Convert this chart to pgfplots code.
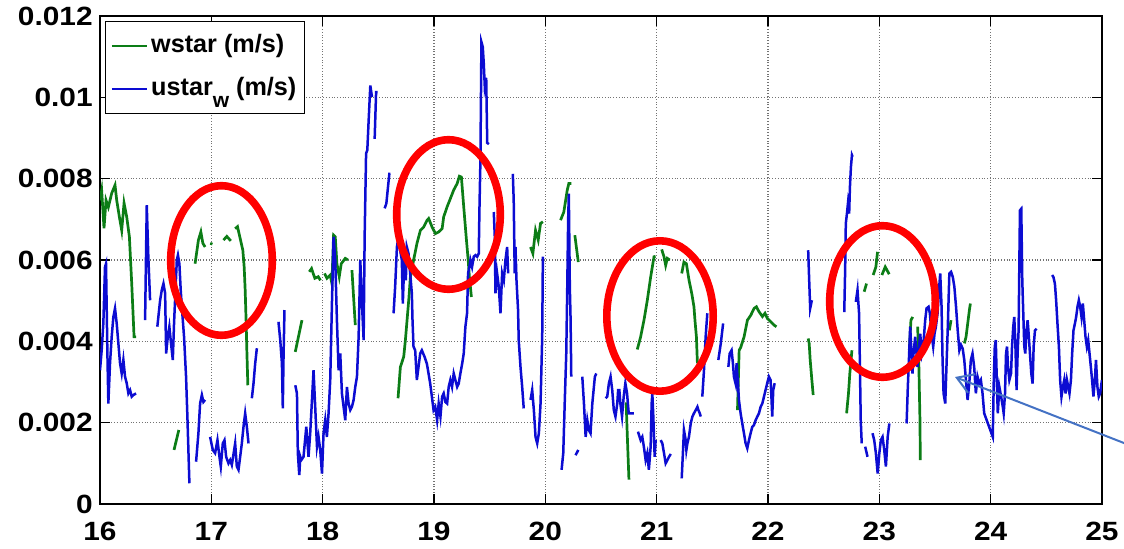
\documentclass[border=0pt]{standalone}
\usepackage{fontspec}
\usepackage{pgfplots}
\pgfplotsset{compat=1.18}
\usetikzlibrary{arrows.meta}
\newfontfamily\tickfont{Liberation Sans}[FakeStretch=1.13]
\newfontfamily\legfont{Liberation Sans}
\definecolor{mgreen}{RGB}{12,125,22}
\definecolor{mblue}{RGB}{12,12,210}
\definecolor{arrowblue}{RGB}{68,114,196}
\begin{document}
\begin{tikzpicture}
\path[use as bounding box] (-50bp,-22.5bp) rectangle (512bp,252bp);
\begin{axis}[
  at={(0,0)}, anchor=south west,
  scale only axis, width=501bp, height=244bp,
  xmin=16, xmax=25, ymin=0, ymax=0.012,
  xtick={16,17,18,19,20,21,22,23,24,25},
  xticklabels={16,17,18,19,20,21,22,23,24,25},
  ytick={0,0.002,0.004,0.006,0.008,0.01,0.012},
  yticklabels={\raisebox{-2.5bp}{0},0.002,0.004,0.006,0.008,0.01,0.012},
  scaled y ticks=false,
  grid=major,
  major grid style={densely dotted, line width=0.6bp, black!55},
  axis line style={line width=1bp, black},
  tick style={line width=0.8bp, black},
  major tick length=5bp,
  tick align=inside,
  ticklabel style={font=\tickfont\bfseries\fontsize{13.2bp}{14bp}\selectfont},
  xticklabel style={inner sep=0pt, anchor=north, yshift=-9bp},
  yticklabel style={inner sep=0pt, anchor=east, xshift=-3.5bp},
  unbounded coords=jump,
  legend style={at={(0.005,0.99)}, anchor=north west, draw=black, line width=0.6bp,
    fill=white, inner xsep=2.5bp, inner ysep=5bp, row sep=6.9bp,
    font=\legfont\bfseries\fontsize{12.6bp}{13bp}\selectfont,
    nodes={inner sep=1.5bp, text height=9bp, text depth=2.6bp}},
  legend cell align=left,
  legend image code/.code={\draw[#1, line width=1.3bp] (0bp,0bp) -- (17.5bp,0bp);},
]
\addplot[mgreen, line width=1.35bp] coordinates {
(16.0,0.00747)(16.015,0.00771)(16.036,0.00678)(16.054,0.00747)(16.075,0.0073)(16.105,0.00764)(16.135,0.00784)(16.15,0.00747)(16.174,0.00706)(16.195,0.00673)(16.216,0.0074)(16.24,0.00706)(16.264,0.00657)(16.285,0.00542)(16.306,0.00411)(16.324,0.00411)(16.33,nan)
(16.665,0.00133)(16.708,0.00182)(16.71,nan)
(16.854,0.00591)(16.884,0.00649)(16.906,0.00669)(16.924,0.00641)(16.944,0.00632)(16.95,nan)
(16.99,0.00641)(17.01,0.00639)(17.02,nan)
(17.109,0.00649)(17.139,0.00658)(17.175,0.00647)(17.18,nan)
(17.214,0.00677)(17.235,0.00682)(17.259,0.00653)(17.283,0.00624)(17.295,0.00583)(17.304,0.00526)(17.313,0.00444)(17.319,0.00378)(17.328,0.00292)(17.33,nan)
(17.754,0.00374)(17.814,0.00452)(17.82,nan)
(17.88,0.00571)(17.90,0.00579)(17.93,0.00555)(17.96,0.00559)(17.98,0.0055)(17.99,nan)
(18.017,0.00567)(18.039,0.00555)(18.068,0.00563)(18.083,0.00542)(18.098,0.00661)(18.113,0.00657)(18.128,0.00591)(18.149,0.00559)(18.167,0.00591)(18.203,0.00604)(18.227,0.006)(18.23,nan)
(18.263,0.00575)(18.293,0.0044)(18.3,nan)
(18.677,0.0026)(18.698,0.00337)(18.728,0.00362)(18.743,0.00403)(18.758,0.00452)(18.773,0.00501)(18.788,0.00558)(18.817,0.006)(18.847,0.00641)(18.878,0.00673)(18.907,0.00681)(18.938,0.00698)(18.952,0.00702)(18.983,0.00681)(19.013,0.00665)(19.042,0.00669)(19.073,0.00677)(19.087,0.00706)(19.118,0.00731)(19.147,0.00751)(19.177,0.00772)(19.208,0.00788)(19.228,0.00806)(19.246,0.00804)(19.267,0.00731)(19.289,0.00657)(19.307,0.006)(19.318,0.00558)(19.336,0.00509)(19.34,nan)
(19.867,0.00632)(19.888,0.00616)(19.912,0.00673)(19.936,0.00649)(19.957,0.0069)(19.978,0.00694)(19.98,nan)
(20.137,0.00698)(20.166,0.00718)(20.197,0.00772)(20.211,0.00788)(20.233,0.00788)(20.24,nan)
(20.265,0.00661)(20.296,0.00595)(20.3,nan)
(20.726,0.0025)(20.736,0.0017)(20.751,0.0006)(20.76,nan)
(20.826,0.0038)(20.856,0.00411)(20.886,0.00452)(20.916,0.00501)(20.946,0.00558)(20.976,0.00608)(20.99,0.00609)(21.0,nan)
(21.045,0.00626)(21.066,0.00608)(21.081,0.00587)(21.096,0.00604)(21.117,0.006)(21.12,nan)
(21.225,0.00567)(21.245,0.00595)(21.267,0.00591)(21.291,0.0055)(21.315,0.00518)(21.335,0.00485)(21.344,0.00452)(21.357,0.00411)(21.366,0.00346)(21.37,nan)
(21.726,0.00231)(21.741,0.00378)(21.755,0.00385)(21.785,0.00411)(21.815,0.00452)(21.845,0.00464)(21.875,0.00481)(21.896,0.00485)(21.919,0.00473)(21.95,0.00461)(21.973,0.00469)(21.995,0.00456)(22.025,0.00448)(22.054,0.0044)(22.076,0.00436)(22.08,nan)
(22.361,0.00407)(22.37,0.00395)(22.379,0.00354)(22.394,0.00305)(22.406,0.00268)(22.41,nan)
(22.706,0.00223)(22.723,0.00272)(22.735,0.00321)(22.754,0.00378)(22.76,nan)
(22.864,0.00522)(22.885,0.00542)(22.89,nan)
(22.945,0.00563)(22.969,0.00583)(22.984,0.0062)(22.99,nan)
(23.023,0.00563)(23.053,0.00583)(23.089,0.00565)(23.09,nan)
(23.269,0.00378)(23.284,0.00452)(23.30,0.0046)(23.31,nan)
(23.344,0.00436)(23.353,0.0037)(23.359,0.00288)(23.365,0.00206)(23.368,0.00108)(23.37,nan)
(23.629,0.00427)(23.644,0.00452)(23.65,nan)
(23.764,0.00395)(23.779,0.00411)(23.794,0.00444)(23.809,0.00477)(23.818,0.00493)
};
\addlegendentry{wstar (m/s)}
\addplot[mblue, line width=1.25bp] coordinates {
(16.0,0.00329)(16.015,0.00378)(16.030,0.00444)(16.045,0.00583)(16.054,0.00591)(16.066,0.00378)(16.075,0.00247)(16.09,0.00346)(16.105,0.00411)(16.12,0.0046)(16.135,0.00481)(16.15,0.00444)(16.165,0.00395)(16.18,0.00346)(16.195,0.00321)(16.21,0.00354)(16.225,0.00313)(16.24,0.00297)(16.255,0.00272)(16.27,0.0028)(16.285,0.00264)(16.30,0.00268)(16.324,0.00272)(16.33,nan)
(16.405,0.00452)(16.42,0.00735)(16.434,0.00608)(16.45,0.00501)(16.46,nan)
(16.515,0.00436)(16.54,0.00501)(16.555,0.00526)(16.57,0.00542)(16.585,0.00518)(16.594,0.0037)(16.609,0.00411)(16.623,0.00436)(16.638,0.00395)(16.654,0.00354)(16.665,0.00444)(16.677,0.00518)(16.69,0.006)(16.7,0.00612)(16.713,0.00591)(16.725,0.00526)(16.737,0.00477)(16.755,0.00411)(16.773,0.00313)(16.785,0.00215)(16.794,0.00133)(16.803,0.00051)(16.81,nan)
(16.863,0.00104)(16.884,0.00174)(16.899,0.00247)(16.915,0.00268)(16.929,0.00251)(16.944,0.00256)(16.95,nan)
(16.989,0.00165)(17.013,0.00133)(17.034,0.00125)(17.055,0.00157)(17.073,0.00116)(17.085,0.00092)(17.103,0.00149)(17.118,0.00157)(17.133,0.00116)(17.154,0.001)(17.169,0.00108)(17.184,0.00096)(17.214,0.00149)(17.229,0.00092)(17.244,0.00084)(17.259,0.00116)(17.274,0.00149)(17.289,0.0019)(17.304,0.00223)(17.319,0.0019)(17.334,0.00149)(17.34,nan)
(17.364,0.0026)(17.379,0.00297)(17.394,0.00346)(17.409,0.00383)(17.41,nan)
(17.603,0.00448)(17.619,0.00403)(17.634,0.00346)(17.642,0.00235)(17.648,0.00354)(17.657,0.00477)(17.66,nan)
(17.754,0.00292)(17.769,0.00272)(17.777,0.00125)(17.79,0.00071)(17.799,0.00116)(17.808,0.00108)(17.828,0.00116)(17.853,0.0019)(17.873,0.00116)(17.888,0.00174)(17.904,0.00256)(17.918,0.00329)(17.933,0.00239)(17.949,0.00141)(17.963,0.00165)(17.978,0.00133)(17.994,0.00075)(18.008,0.00174)(18.023,0.00206)(18.038,0.00165)(18.053,0.00223)(18.068,0.00305)(18.084,0.00501)(18.098,0.00657)(18.113,0.006)(18.128,0.00452)(18.143,0.00329)(18.158,0.0037)(18.173,0.00272)(18.188,0.00239)(18.203,0.00206)(18.218,0.00288)(18.233,0.00247)(18.248,0.00231)(18.263,0.00239)(18.278,0.00256)(18.293,0.00288)(18.308,0.00313)(18.323,0.00411)(18.338,0.006)(18.353,0.00493)(18.368,0.00403)(18.377,0.00657)(18.39,0.00862)(18.401,0.0087)(18.413,0.00943)(18.428,0.01029)(18.443,0.01001)(18.45,nan)
(18.467,0.00898)(18.48,0.01013)(18.494,0.01013)(18.5,nan)
(18.557,0.00727)(18.572,0.00739)(18.587,0.0078)(18.599,0.00812)(18.608,0.00812)(18.61,nan)
(18.637,0.00469)(18.651,0.00534)(18.667,0.00632)(18.681,0.00657)(18.696,0.00624)(18.711,0.006)(18.72,0.00493)(18.735,0.00614)(18.747,0.0055)(18.756,0.00632)(18.771,0.00616)(18.786,0.00567)(18.801,0.00518)(18.807,0.00452)(18.816,0.00387)(18.831,0.00378)(18.846,0.00305)(18.861,0.00337)(18.876,0.0037)(18.891,0.00378)(18.915,0.00362)(18.936,0.00345)(18.951,0.00321)(18.966,0.00296)(18.981,0.00264)(18.996,0.00231)(19.011,0.00239)(19.028,0.00206)(19.042,0.00247)(19.058,0.00215)(19.073,0.00264)(19.087,0.00272)(19.102,0.00251)(19.118,0.00247)(19.132,0.00288)(19.147,0.00305)(19.162,0.00288)(19.177,0.00321)(19.192,0.00305)(19.208,0.00288)(19.222,0.00296)(19.237,0.00321)(19.253,0.00345)(19.267,0.0037)(19.282,0.00436)(19.297,0.00469)(19.306,0.00567)(19.318,0.00583)(19.327,0.006)(19.342,0.00583)(19.357,0.00608)(19.372,0.00612)(19.388,0.00608)(19.402,0.00616)(19.408,0.00722)(19.417,0.00845)(19.426,0.01136)(19.438,0.01124)(19.447,0.01084)(19.456,0.01027)(19.469,0.01048)(19.478,0.00888)(19.493,0.00885)(19.5,nan)
(19.537,0.00718)(19.546,0.00657)(19.552,0.00518)(19.567,0.00567)(19.582,0.00534)(19.597,0.00469)(19.612,0.00567)(19.627,0.0055)(19.642,0.006)(19.657,0.00632)(19.666,0.00567)(19.67,nan)
(19.708,0.00812)(19.716,0.00747)(19.725,0.00567)(19.732,0.00632)(19.741,0.0055)(19.755,0.00477)(19.761,0.00403)(19.777,0.00337)(19.792,0.00288)(19.806,0.00235)(19.81,nan)
(19.867,0.00256)(19.882,0.0028)(19.897,0.00231)(19.912,0.00165)(19.927,0.00149)(19.942,0.00174)(19.957,0.00247)(19.972,0.00411)(19.978,0.00608)(19.99,nan)
(20.146,0.00084)(20.161,0.00125)(20.175,0.00256)(20.188,0.0037)(20.197,0.00534)(20.205,0.00698)(20.211,0.00763)(20.22,0.00534)(20.227,0.00452)(20.233,0.00313)(20.24,nan)
(20.272,0.0012)(20.296,0.00133)(20.3,nan)
(20.332,0.00313)(20.347,0.00247)(20.362,0.00165)(20.377,0.00206)(20.391,0.00182)(20.406,0.00174)(20.422,0.00247)(20.445,0.00313)(20.458,0.00321)(20.5,nan)
(20.541,0.0026)(20.556,0.00264)(20.571,0.00297)(20.586,0.00313)(20.601,0.0028)(20.615,0.00231)(20.63,0.00215)(20.646,0.00247)(20.654,0.0028)(20.665,0.0028)(20.674,0.00247)(20.689,0.00215)(20.704,0.00264)(20.719,0.00297)(20.734,0.00272)(20.749,0.00223)(20.764,0.00223)(20.779,0.00223)(20.795,0.00223)(20.8,nan)
(20.832,0.00178)(20.856,0.00157)(20.871,0.00165)(20.885,0.00141)(20.901,0.00108)(20.916,0.00125)(20.93,0.00084)(20.946,0.00141)(20.955,0.00247)(20.961,0.00272)(20.97,0.00215)(20.982,0.00116)(20.991,0.00157)(21.0,nan)
(21.036,0.00157)(21.051,0.00149)(21.066,0.00125)(21.081,0.001)(21.096,0.00108)(21.111,0.00116)(21.127,0.00123)(21.13,nan)
(21.225,0.00063)(21.237,0.00133)(21.245,0.00182)(21.261,0.00157)(21.267,0.00133)(21.276,0.00149)(21.29,0.00165)(21.306,0.00198)(21.321,0.00215)(21.335,0.00223)(21.351,0.00231)(21.366,0.00239)(21.375,0.00231)(21.387,0.00223)(21.396,0.00215)(21.4,nan)
(21.41,0.00264)(21.425,0.00329)(21.44,0.00411)(21.455,0.00469)(21.46,nan)
(21.554,0.00354)(21.576,0.00395)(21.597,0.00444)(21.6,nan)
(21.644,0.00337)(21.656,0.0037)(21.673,0.00378)(21.685,0.00346)(21.694,0.00313)(21.709,0.00296)(21.718,0.00346)(21.73,0.00296)(21.739,0.00256)(21.754,0.00223)(21.769,0.00198)(21.784,0.00174)(21.799,0.00149)(21.814,0.00137)(21.829,0.00157)(21.844,0.00174)(21.859,0.0019)(21.874,0.00194)(21.889,0.00206)(21.904,0.00215)(21.919,0.00223)(21.934,0.00239)(21.949,0.00247)(21.964,0.00264)(21.978,0.0028)(21.993,0.00297)(22.008,0.00313)(22.023,0.00305)(22.032,0.00256)(22.038,0.00215)(22.047,0.0028)(22.06,0.00297)(22.07,nan)
(22.361,0.00624)(22.37,0.0055)(22.379,0.00481)(22.394,0.00501)(22.4,nan)
(22.685,0.00472)(22.693,0.00575)(22.699,0.0069)(22.709,0.00714)(22.718,0.00739)(22.729,0.00714)(22.736,0.0078)(22.745,0.00829)(22.754,0.00858)(22.76,0.00854)(22.77,nan)
(22.789,0.00497)(22.804,0.00526)(22.818,0.00469)(22.824,0.0037)(22.833,0.00206)(22.842,0.00149)(22.85,nan)
(22.873,0.00141)(22.894,0.00116)(22.9,nan)
(22.939,0.00174)(22.954,0.00157)(22.969,0.00125)(22.985,0.00075)(23.0,0.00125)(23.014,0.00157)(23.029,0.00165)(23.044,0.00133)(23.059,0.00092)(23.075,0.00165)(23.09,0.00198)(23.1,nan)
(23.245,0.00198)(23.256,0.00288)(23.268,0.0037)(23.277,0.00436)(23.286,0.00387)(23.298,0.00321)(23.307,0.0037)(23.322,0.00411)(23.334,0.0037)(23.343,0.00337)(23.352,0.0037)(23.367,0.00419)(23.382,0.0037)(23.394,0.00387)(23.412,0.00452)(23.424,0.00481)(23.442,0.00485)(23.454,0.00469)(23.469,0.00419)(23.484,0.00387)(23.496,0.00419)(23.508,0.00436)(23.523,0.00469)(23.538,0.00534)(23.547,0.00567)(23.559,0.00485)(23.568,0.00354)(23.577,0.00272)(23.592,0.00247)(23.614,0.00427)(23.629,0.00567)(23.644,0.00571)(23.66,0.00558)(23.674,0.00534)(23.689,0.00485)(23.704,0.00427)(23.719,0.00378)(23.734,0.00391)(23.749,0.00382)(23.763,0.00354)(23.778,0.00305)(23.793,0.00256)(23.808,0.00297)(23.822,0.00354)(23.837,0.0037)(23.852,0.00337)(23.867,0.00272)(23.882,0.00313)(23.897,0.00297)(23.912,0.00305)(23.927,0.00272)(23.942,0.00223)(24.019,0.00165)(24.028,0.00305)(24.037,0.00387)(24.046,0.00403)(24.055,0.00305)(24.064,0.00223)(24.078,0.00288)(24.094,0.00264)(24.109,0.00239)(24.117,0.00223)(24.129,0.00272)(24.138,0.0037)(24.147,0.00387)(24.156,0.00337)(24.168,0.00305)(24.183,0.00321)(24.192,0.00387)(24.203,0.00436)(24.212,0.0046)(24.221,0.00403)(24.233,0.0028)(24.242,0.0037)(24.251,0.00427)(24.263,0.00722)(24.275,0.00726)(24.284,0.0055)(24.293,0.00469)(24.302,0.00387)(24.311,0.0037)(24.32,0.00419)(24.332,0.00452)(24.341,0.00419)(24.353,0.0037)(24.365,0.00321)(24.377,0.00296)(24.386,0.00387)(24.398,0.00427)(24.413,0.00431)(24.42,nan)
(24.552,0.00563)(24.564,0.00558)(24.577,0.00542)(24.588,0.00501)(24.6,0.00444)(24.613,0.00387)(24.624,0.00305)(24.636,0.00264)(24.649,0.00288)(24.661,0.00305)(24.673,0.00272)(24.685,0.00305)(24.697,0.00288)(24.708,0.00272)(24.721,0.00305)(24.732,0.0037)(24.744,0.00427)(24.757,0.00444)(24.768,0.0046)(24.78,0.00485)(24.792,0.00501)(24.804,0.00485)(24.816,0.0046)(24.828,0.00493)(24.84,0.00452)(24.852,0.00411)(24.864,0.00387)(24.876,0.00403)(24.888,0.0037)(24.9,0.00337)(24.911,0.00305)(24.923,0.00264)(24.936,0.00305)(24.946,0.00354)(24.959,0.00288)(24.971,0.00264)(24.983,0.00272)(24.995,0.00296)(25.0,0.00305)
};
\addlegendentry{ustar\raisebox{-5.8bp}{\fontsize{10.5bp}{11bp}\selectfont w} (m/s)}
\end{axis}
% annotations (in bp relative to the axis origin)
\draw[red, line width=3.8bp] (60.75bp,121.75bp) ellipse [x radius=25.4bp, y radius=37.4bp];
\draw[red, line width=3.8bp] (174.25bp,144.75bp) ellipse [x radius=25.9bp, y radius=37.4bp];
\draw[red, line width=3.8bp] (280bp,94bp) ellipse [x radius=26.6bp, y radius=37.6bp];
\draw[red, line width=3.8bp] (391.25bp,101.25bp) ellipse [x radius=26.4bp, y radius=37.9bp];
\draw[arrowblue, line width=1bp, -{Straight Barb[length=8bp, width=10bp]}] (514bp,29.7bp) -- (427.5bp,63.5bp);
\end{tikzpicture}
\end{document}
